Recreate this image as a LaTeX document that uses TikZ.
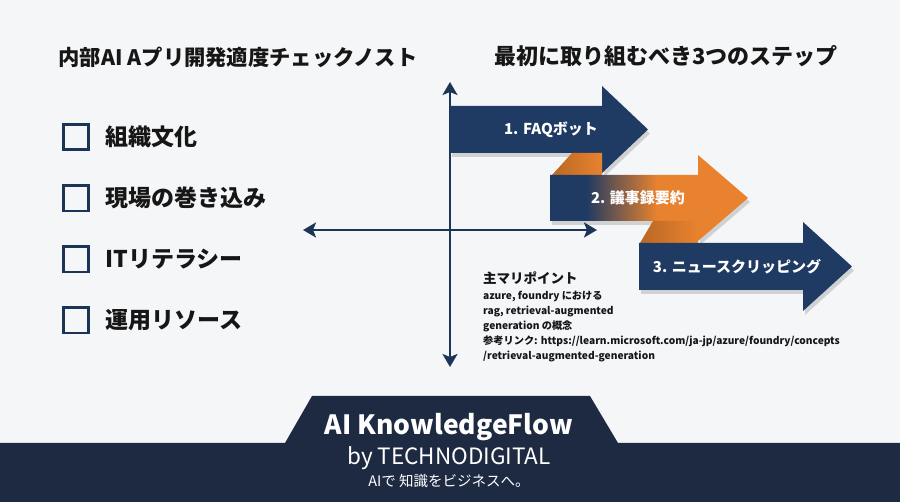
\documentclass[tikz,border=0pt]{standalone}
\usepackage{fontspec}
\setmainfont{Noto Sans CJK JP}
\usepackage{tikz}
\usetikzlibrary{arrows.meta,positioning,shadows}
\usepackage{xcolor}
\definecolor{paper}{HTML}{F5F6F8}
\definecolor{inkblack}{HTML}{161616}
\definecolor{stepnavy}{HTML}{1F3A63}
\definecolor{axisnavy}{HTML}{1C3557}
\definecolor{steporange}{HTML}{E8822E}
\definecolor{footnavy}{HTML}{1D2A42}
\pgfdeclarehorizontalshading{navyorange}{100bp}{color(0bp)=(stepnavy); color(34bp)=(stepnavy); color(52bp)=(steporange); color(100bp)=(steporange)}

\begin{document}
\begin{tikzpicture}[
    x=1pt, y=-1pt,
    node distance=33pt,
    chkbox/.style={
      rectangle, draw=axisnavy, line width=2.6pt,
      minimum size=25.5pt, inner sep=0pt
    },
    chk_label/.style={
      inner sep=0pt, anchor=west, text=inkblack,
      font=\fontsize{23}{27}\selectfont\bfseries
    },
    title_style/.style={
      inner sep=0pt, text=inkblack
    },
    step_arrow/.style={
      fill=stepnavy,
      drop shadow={shadow xshift=2pt, shadow yshift=-4pt, opacity=0.15, fill=black}
    },
    step_fold/.style={
      left color=steporange!80!black, right color=steporange
    },
    step_text/.style={
      inner sep=0pt, text=white,
      font=\fontsize{15}{18}\selectfont\bfseries
    },
    axis_line/.style={
      {Stealth[length=13pt,width=15pt,inset=3pt]}-{Stealth[length=13pt,width=15pt,inset=3pt]},
      line width=2.4pt, axisnavy
    },
    foot_text/.style={
      inner sep=0pt, text=white
    }
  ]
  \useasboundingbox (0,0) rectangle (900,502);
  \fill[paper] (0,0) rectangle (900,502);

  % --- Titles ---
  \node[title_style, font=\fontsize{21.3}{25}\selectfont\bfseries] (checkTitle) at (238,57)
    {内部AI Aプリ開発適度チェックノスト};
  \node[title_style, font=\fontsize{22}{26}\selectfont\bfseries] (stepTitle) at (666,56)
    {最初に取り組むべき3つのステップ};

  % --- Left: check list ---
  \node[chkbox] (box1) at (76,137) {};
  \node[chkbox, below=of box1] (box2) {};
  \node[chkbox, below=of box2] (box3) {};
  \node[chkbox, below=of box3] (box4) {};

  \node[chk_label, right=15pt of box1] (item1) {組織文化};
  \node[chk_label, right=15pt of box2] (item2) {現場の巻き込み};
  \node[chk_label, right=15pt of box3] (item3) {ITリテラシー};
  \node[chk_label, right=15pt of box4] (item4) {運用リソース};

  % --- Axes ---
  \coordinate (axisTop) at (450,82);
  \coordinate (axisBottom) at (450,367);
  \coordinate (axisLeft) at (303,230);
  \coordinate (axisRight) at (597,230);
  \draw[axis_line] (axisBottom) -- (axisTop);
  \draw[axis_line] (axisLeft) -- (axisRight);

  % --- Steps: three arrows with folds ---
  \path[step_arrow] (450,106) -- (602,106) -- (602,86) -- (648,129.5)
    -- (602,173) -- (602,153) -- (450,153) -- cycle;
  \shade[step_fold] (552,175) -- (572,153) -- (602,153) -- (602,175) -- cycle;
  \shade[shading=navyorange,
      drop shadow={shadow xshift=2pt, shadow yshift=-4pt, opacity=0.15, fill=black}]
    (550,175) -- (698,175) -- (698,155) -- (748,198)
    -- (698,241) -- (698,221) -- (550,221) -- cycle;
  \shade[step_fold] (640,243) -- (653,221) -- (698,221) -- (698,243) -- cycle;
  \path[step_arrow] (639,243) -- (803,243) -- (803,222) -- (852,266.5)
    -- (803,311) -- (803,290) -- (639,290) -- cycle;

  \node[step_text] (step1) at (551,130) {1. FAQボット};
  \node[step_text] (step2) at (638,198) {2. 議事録要約};
  \node[step_text] (step3) at (737,267) {3. ニュースクリッピング};

  % --- Key points ---
  \node[title_style, anchor=west, font=\fontsize{13.5}{16}\selectfont\bfseries]
    (keyTitle) at (483,278) {主マリポイント};
  \node[title_style, below=6pt of keyTitle.south west, anchor=north west, align=left,
      font=\fontsize{10.2}{15}\selectfont\bfseries] (keyBody)
    {azure, foundry における\\
     rag, retrieval-augmented\\
     generation の概念\\
     参考リンク: https://learn.microsoft.com/ja-jp/azure/foundry/concepts\\
     /retrieval-augmented-generation};

  % --- Footer ---
  \fill[footnavy] (0,443) -- (285,443) -- (312,396) -- (590,396) -- (618,443)
    -- (900,443) -- (900,502) -- (0,502) -- cycle;
  \node[foot_text, font=\fontsize{26.5}{30}\selectfont\bfseries] (brand) at (449,427)
    {AI KnowledgeFlow};
  \node[foot_text, font=\fontsize{22.5}{26}\selectfont, below=5pt of brand] (company)
    {by TECHNODIGITAL};
  \node[foot_text, font=\fontsize{14.5}{17}\selectfont, below=5pt of company] (tagline)
    {AIで 知識をビジネスへ。};
\end{tikzpicture}
\end{document}
